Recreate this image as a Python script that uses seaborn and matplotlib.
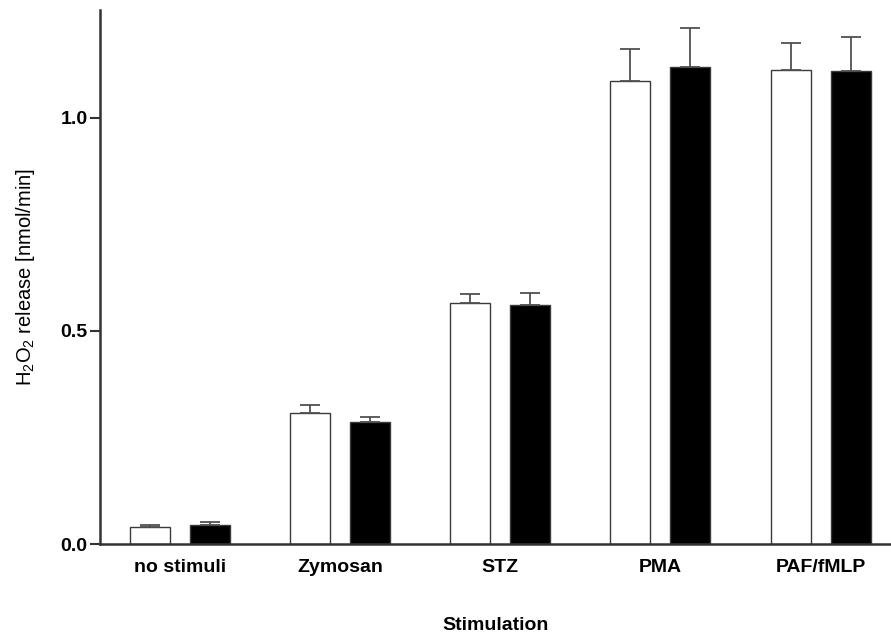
import numpy as np
import pandas as pd
import matplotlib
matplotlib.use("Agg")
import matplotlib.pyplot as plt
import seaborn as sns

# values
categories = ["no stimuli", "Zymosan", "STZ", "PMA", "PAF/fMLP"]
groups = ["open", "filled"]
open_means = [0.041, 0.307, 0.565, 1.087, 1.112]
open_err = [0.003, 0.019, 0.021, 0.076, 0.064]
filled_means = [0.045, 0.287, 0.561, 1.120, 1.110]
filled_err = [0.007, 0.011, 0.029, 0.092, 0.079]

df = pd.DataFrame({
    "stim": categories * 2,
    "group": [groups[0]] * len(categories) + [groups[1]] * len(categories),
    "value": open_means + filled_means,
    "err": open_err + filled_err,
})

sns.set_style("ticks")
plt.rcParams["font.family"] = ["Liberation Sans", "DejaVu Sans"]
plt.rcParams["mathtext.default"] = "regular"
plt.rcParams["text.color"] = "black"
plt.rcParams["axes.labelcolor"] = "black"
plt.rcParams["xtick.color"] = "black"
plt.rcParams["ytick.color"] = "black"

fig = plt.figure(figsize=(8.91, 6.35), dpi=100)
ax = fig.add_axes([0.1122, 0.1433, 1.0 - 0.1122, 0.984 - 0.1433])

sns.barplot(data=df, x="stim", y="value", hue="group", order=categories,
            hue_order=groups, palette={"open": "white", "filled": "black"},
            width=0.75, gap=1/3, errorbar=None, edgecolor="#3a3a3a",
            linewidth=1.0, legend=False, ax=ax)

# upper-only error bars placed on the drawn bars
for container, g in zip(ax.containers, groups):
    sub = df[df["group"] == g].set_index("stim").loc[categories]
    xs = [p.get_x() + p.get_width() / 2 for p in container.patches]
    ys = [p.get_height() for p in container.patches]
    ax.errorbar(xs, ys, yerr=[np.zeros(len(xs)), sub["err"].values],
                fmt="none", ecolor="#505050", elinewidth=1.3,
                capsize=7.5, capthick=1.3, zorder=1)

ax.set_xlim(-0.5, 4.44)
ax.set_ylim(0, 1.253)
ax.set_yticks([0.0, 0.5, 1.0])
ax.set_yticklabels(["0.0", "0.5", "1.0"], fontsize=14, fontweight="bold")
ax.set_xticks(range(len(categories)))
ax.set_xticklabels(categories, fontsize=14, fontweight="bold")
ax.tick_params(axis="x", length=0, pad=11)
ax.tick_params(axis="y", length=7, width=1.5, pad=2, color="#333333")

sns.despine(ax=ax)
ax.spines["left"].set_linewidth(1.8)
ax.spines["bottom"].set_linewidth(1.8)
ax.spines["left"].set_color("#333333")
ax.spines["bottom"].set_color("#333333")

ax.set_xlabel("Stimulation", fontsize=14, fontweight="bold", labelpad=29)
ax.set_ylabel(r"H$_2$O$_2$ release [nmol/min]", fontsize=14.5, labelpad=17)

fig.savefig("out.png", dpi=100)
